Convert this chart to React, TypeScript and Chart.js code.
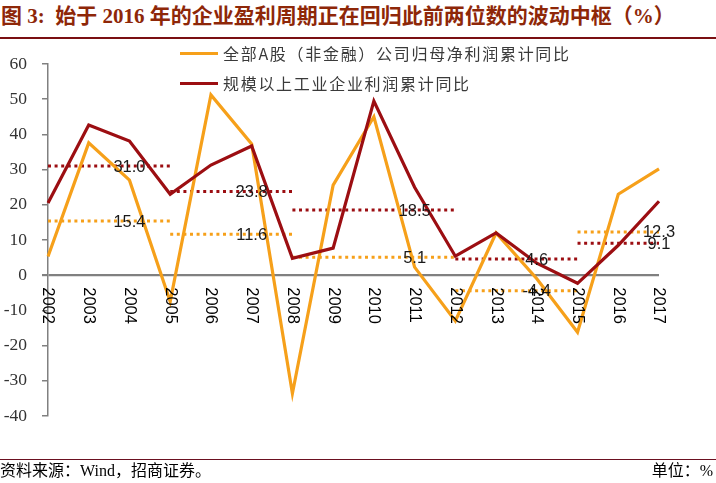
import React, { useEffect, useRef } from "react";
import { Chart, registerables } from "chart.js";

Chart.register(...registerables);

const years = ["2002", "2003", "2004", "2005", "2006", "2007", "2008", "2009", "2010", "2011", "2012", "2013", "2014", "2015", "2016", "2017"];
const allAShares = [5.3, 37.6, 27.0, -7.5, 51.2, 37.3, -33.6, 25.6, 45.0, 2.3, -13.0, 12.0, -1.0, -16.2, 23.0, 30.2];
const industrial = [20.5, 42.7, 38.1, 23.0, 31.3, 36.7, 4.8, 7.7, 49.5, 25.0, 5.4, 12.0, 3.4, -2.3, 8.5, 21.0];

const periodStart = ["2002", "2005", "2008", "2012", "2015"];
const periodEnd = ["2005", "2008", "2012", "2015", "2017"];
const periodLabelYear = ["2004", "2007", "2011", "2014", "2017"];
const allASharesAvg = [15.4, 11.6, 5.1, -4.4, 12.3];
const industrialAvg = [31.0, 23.8, 18.5, 4.6, 9.1];

const yMin = -40;
const yMax = 60;
const yStep = 10;

const seriesNames = ["全部A股（非金融）公司归母净利润累计同比", "规模以上工业企业利润累计同比"];
const title = "图 3:  始于 2016 年的企业盈利周期正在回归此前两位数的波动中枢（%）";
const sourceText = "资料来源：Wind，招商证券。";
const unitText = "单位：%";

const ORANGE = "#F6A01A";
const RED = "#9C0E12";
const W = 716;
const H = 483;

function segmentData(avg: number, start: string, end: string) {
  const s = years.indexOf(start);
  const e = years.indexOf(end);
  return years.map((_, i) => (i >= s && i <= e ? avg : null));
}

const avgLabelPlugin = {
  id: "avgLabels",
  afterDatasetsDraw(chart: any) {
    const { ctx, scales } = chart;
    const x = scales.x;
    const y = scales.y;
    ctx.save();
    ctx.font = '16.5px "Liberation Sans", Arial, sans-serif';
    ctx.fillStyle = "#1a1a1a";
    ctx.textAlign = "center";
    ctx.textBaseline = "middle";
    const groups = [industrialAvg, allASharesAvg];
    groups.forEach((vals) => {
      vals.forEach((v, i) => {
        const px = x.getPixelForValue(years.indexOf(periodLabelYear[i]));
        const py = y.getPixelForValue(v);
        ctx.fillText(v.toFixed(1), px, py + 1);
      });
    });
    const zeroY = y.getPixelForValue(0);
    ctx.font = '16.5px "Liberation Sans", Arial, sans-serif';
    ctx.fillStyle = "#000";
    ctx.textAlign = "left";
    ctx.textBaseline = "middle";
    years.forEach((yr, i) => {
      const px = x.getPixelForValue(i);
      ctx.save();
      ctx.translate(px, zeroY + 12);
      ctx.rotate(Math.PI / 2);
      ctx.fillText(yr, 0, 0);
      ctx.restore();
    });
    ctx.restore();
  },
};

function ChartBox() {
  const ref = useRef<HTMLCanvasElement | null>(null);
  useEffect(() => {
    if (!ref.current) return;
    const avgSets: any[] = [];
    industrialAvg.forEach((v, i) => {
      avgSets.push({
        label: "ind-avg-" + i,
        data: segmentData(v, periodStart[i], periodEnd[i]),
        borderColor: RED,
        borderWidth: 3,
        borderDash: [3, 3.6],
        borderCapStyle: "butt",
        pointRadius: 0,
        fill: false,
        spanGaps: false,
        order: 3,
      });
    });
    allASharesAvg.forEach((v, i) => {
      avgSets.push({
        label: "all-avg-" + i,
        data: segmentData(v, periodStart[i], periodEnd[i]),
        borderColor: ORANGE,
        borderWidth: 3,
        borderDash: [3, 3.6],
        borderCapStyle: "butt",
        pointRadius: 0,
        fill: false,
        spanGaps: false,
        order: 3,
      });
    });
    const chart = new Chart(ref.current, {
      type: "line",
      data: {
        labels: years,
        datasets: [
          {
            label: seriesNames[0],
            data: allAShares,
            borderColor: ORANGE,
            backgroundColor: ORANGE,
            borderWidth: 3.2,
            pointRadius: 0,
            tension: 0,
            order: 2,
          },
          {
            label: seriesNames[1],
            data: industrial,
            borderColor: RED,
            backgroundColor: RED,
            borderWidth: 3.2,
            pointRadius: 0,
            tension: 0,
            order: 1,
          },
          ...avgSets,
        ],
      },
      options: {
        responsive: false,
        animation: false,
        devicePixelRatio: 1,
        layout: { padding: { top: 64, bottom: 67, left: 0, right: 57 } },
        plugins: {
          legend: { display: false },
          tooltip: { enabled: false },
          title: { display: false },
        },
        scales: {
          x: {
            type: "category",
            display: false,
            offset: false,
          },
          y: {
            min: yMin,
            max: yMax,
            afterFit: (scale: any) => {
              scale.width = 48;
            },
            ticks: {
              stepSize: yStep,
              padding: 15,
              color: "#333",
              font: { family: '"Liberation Serif", "Times New Roman", serif', size: 17.5 },
            },
            border: { display: true, color: "#808080", width: 1.5 },
            grid: {
              drawOnChartArea: true,
              drawTicks: true,
              tickLength: 6,
              tickColor: "#808080",
              color: (c: any) => (c.tick && c.tick.value === 0 ? "#808080" : "rgba(0,0,0,0)"),
              lineWidth: (c: any) => (c.tick && c.tick.value === 0 ? 2.2 : 1.5),
            },
          },
        },
      },
      plugins: [avgLabelPlugin],
    });
    return () => chart.destroy();
  }, []);
  return <canvas ref={ref} width={W} height={H} style={{ position: "absolute", left: 0, top: 0, width: W, height: H }} />;
}

export default function App() {
  const legendText: React.CSSProperties = {
    position: "absolute",
    left: 223,
    fontFamily: '"Noto Sans CJK SC", sans-serif',
    fontSize: 16,
    letterSpacing: 1.7,
    color: "#3a3a3a",
    lineHeight: "20px",
    whiteSpace: "nowrap",
  };
  return (
    <div style={{ position: "absolute", left: 0, top: 0, width: W, height: H, background: "#fff", overflow: "hidden" }}>
      <div
        style={{
          position: "absolute",
          left: 1,
          top: 2,
          fontFamily: '"Liberation Serif", "Noto Sans CJK SC", serif',
          fontWeight: "bold",
          fontSize: 21,
          color: "#8E2708",
          whiteSpace: "pre",
          lineHeight: "28px",
        }}
      >
        {title}
      </div>
      <div style={{ position: "absolute", left: 0, top: 37, width: W, height: 2, background: "#7A0F12" }} />
      <ChartBox />
      <div style={{ position: "absolute", left: 180, top: 51.5, width: 38, height: 3, background: ORANGE }} />
      <div style={{ ...legendText, top: 43 }}>{seriesNames[0]}</div>
      <div style={{ position: "absolute", left: 180, top: 81.5, width: 38, height: 3, background: RED }} />
      <div style={{ ...legendText, top: 73 }}>{seriesNames[1]}</div>
      <div style={{ position: "absolute", left: 0, top: 459, width: W, height: 1, background: "#6B1020" }} />
      <div
        style={{
          position: "absolute",
          left: 0,
          top: 460,
          fontFamily: '"Liberation Serif", "Noto Sans CJK SC", serif',
          fontSize: 16,
          color: "#000",
          lineHeight: "22px",
          whiteSpace: "nowrap",
        }}
      >
        {sourceText}
      </div>
      <div
        style={{
          position: "absolute",
          right: 3,
          top: 460,
          fontFamily: '"Liberation Serif", "Noto Sans CJK SC", serif',
          fontSize: 16,
          color: "#000",
          lineHeight: "22px",
          whiteSpace: "nowrap",
        }}
      >
        {unitText}
      </div>
    </div>
  );
}
